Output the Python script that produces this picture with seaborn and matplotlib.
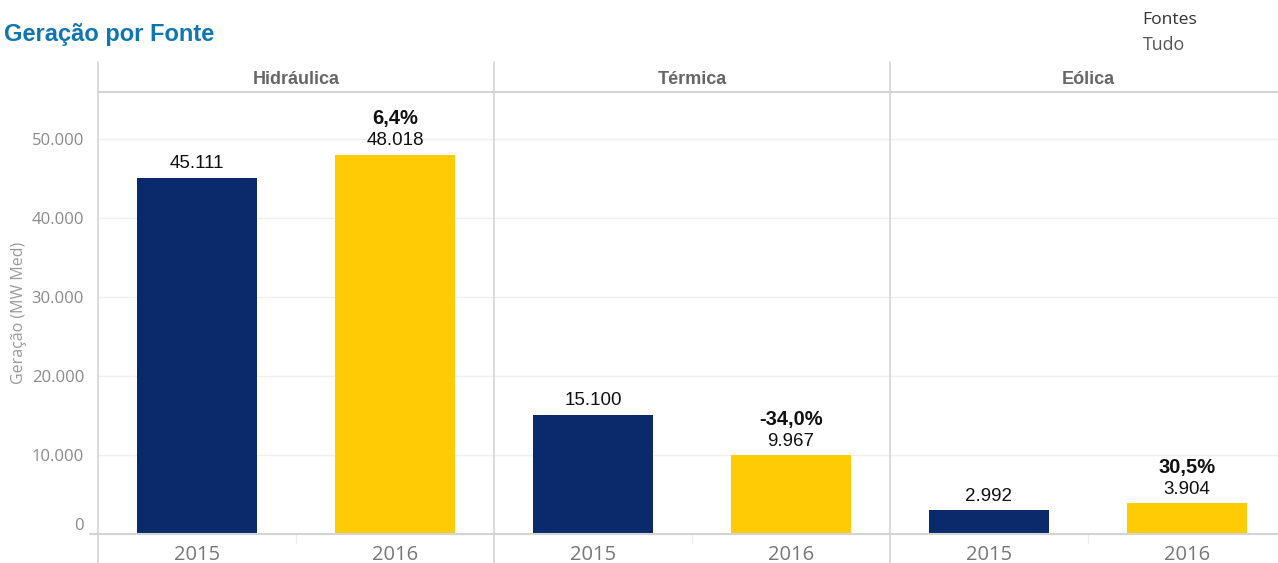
import matplotlib
matplotlib.use("Agg")
import matplotlib.pyplot as plt
import seaborn as sns
import pandas as pd
from matplotlib.lines import Line2D

sources = ["Hidráulica", "Térmica", "Eólica"]
years = ["2015", "2016"]
gen_2015 = [45111, 15100, 2992]
gen_2016 = [48018, 9967, 3904]
y_ticks = [0, 10000, 20000, 30000, 40000, 50000]

colors = {"2015": "#0a2a6b", "2016": "#fecb05"}
grey_line = "#d4d4d4"
tick_col = "#8a8a8a"

def fmt(v):
    return f"{v:,.0f}".replace(",", ".")

def pct(a, b):
    return f"{(b / a - 1) * 100:.1f}%".replace(".", ",")

sns.set_theme(style="white")
plt.rcParams["font.family"] = ["Liberation Sans", "DejaVu Sans"]

W, H = 1278, 563
fig = plt.figure(figsize=(W / 100, H / 100), dpi=100)

left_px = 98
panel_w = 396
base_px, top_px = 534, 92
ymax = (base_px - top_px) / ((base_px - 139) / 50000)

for i, src in enumerate(sources):
    x0 = left_px + i * panel_w
    ax = fig.add_axes([x0 / W, (H - base_px) / H, panel_w / W, (base_px - top_px) / H])
    df = pd.DataFrame({"Ano": years, "Geração": [gen_2015[i], gen_2016[i]]})
    sns.barplot(data=df, x="Ano", y="Geração", hue="Ano", palette=colors,
                width=0.606, legend=False, ax=ax, saturation=1, linewidth=0)
    ax.set_ylim(0, ymax)
    ax.set_xlim(-0.5, 1.5)
    ax.set_yticks(y_ticks)
    for y in y_ticks[1:]:
        ax.axhline(y, color="#efefef", lw=1, zorder=0)
    for s in ax.spines.values():
        s.set_visible(False)
    ax.set_xlabel("")
    ax.set_ylabel("")
    ax.tick_params(axis="x", length=0, pad=8, labelsize=14.5, labelcolor="#777777")
    for lab in ax.get_xticklabels():
        lab.set_family(["Open Sans", "DejaVu Sans"])
    if i == 0:
        ax.set_yticklabels([fmt(v) for v in y_ticks])
        ax.tick_params(axis="y", length=0, pad=10, labelsize=12, labelcolor=tick_col)
        for lab in ax.get_yticklabels():
            lab.set_family(["Open Sans", "DejaVu Sans"])
        ax.get_yticklabels()[0].set_va("bottom")
        ax.set_ylabel("Geração (MW Med)", fontsize=11.5, color="#9a9a9a",
                      family=["Open Sans", "DejaVu Sans"], labelpad=3)
    else:
        ax.tick_params(axis="y", left=False, labelleft=False)
    vals = [gen_2015[i], gen_2016[i]]
    for j, v in enumerate(vals):
        ax.annotate(fmt(v), (j, v), xytext=(0, 4), textcoords="offset points",
                    ha="center", va="bottom", fontsize=13.5, color="#111111")
    ax.annotate(pct(vals[0], vals[1]), (1, vals[1]), xytext=(0, 19),
                textcoords="offset points", ha="center", va="bottom",
                fontsize=14.5, fontweight="bold", color="#111111")
    # header
    fig.text((x0 + panel_w / 2) / W, (H - 77) / H, src, ha="center", va="center_baseline",
             fontsize=13, fontweight="bold", color="#666666")
    # category separator tick
    fig.add_artist(Line2D([(x0 + panel_w / 2) / W] * 2,
                          [(H - base_px) / H, (H - base_px - 9) / H],
                          color="#ececec", lw=1))

# panel separators
for k in range(3):
    xp = (left_px + k * panel_w) / W
    fig.add_artist(Line2D([xp, xp], [0, (H - 62) / H], color=grey_line, lw=1.2))
# header line and baseline
fig.add_artist(Line2D([left_px / W, 1], [(H - top_px) / H] * 2, color=grey_line, lw=1.5))
fig.add_artist(Line2D([90 / W, 1], [(H - base_px) / H] * 2, color=grey_line, lw=1.5))

fig.text(4 / W, (H - 34) / H, "Geração por Fonte", ha="left", va="center",
         fontsize=17, fontweight="bold", color="#0f76b1")
fig.text(1142 / W, (H - 20) / H, "Fontes", ha="left", va="center", fontsize=12.6,
         color="#333333", family=["Open Sans", "DejaVu Sans"])
fig.text(1143 / W, (H - 45) / H, "Tudo", ha="left", va="center", fontsize=12.8,
         color="#555555", family=["Open Sans", "DejaVu Sans"])

fig.savefig("out.png", dpi=100)
